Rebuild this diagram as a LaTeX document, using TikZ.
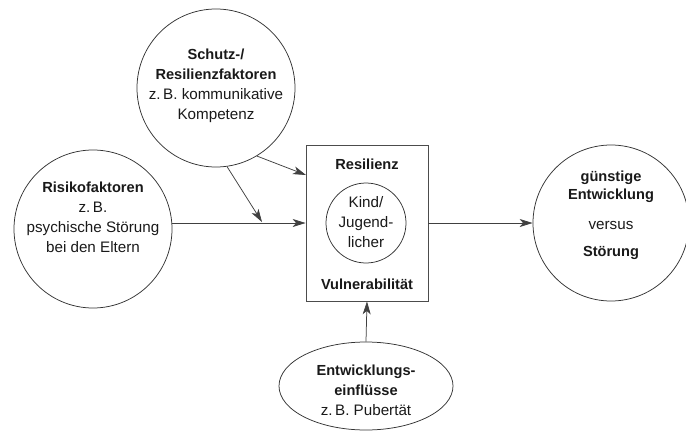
\documentclass[tikz,border=0pt]{standalone}
\usepackage{fontspec}
\setmainfont{Liberation Sans}
\usetikzlibrary{shapes.geometric,arrows.meta}
\begin{document}
\begin{tikzpicture}[x=1pt,y=-1pt,
  line width=0.75pt,
  every node/.style={font=\fontsize{15.2}{20}\selectfont, text=black!90},
  ring/.style={draw=black!80, circle, inner sep=0pt, align=center},
  frame/.style={draw=black!70, rectangle, inner sep=0pt},
  oval/.style={draw=black!80, ellipse, inner sep=0pt, align=center},
  conn/.style={draw=black!75, -{Stealth[length=13pt,width=8pt,inset=3.5pt]}},
  bold/.style={font=\fontsize{14.6}{20}\selectfont\bfseries}
]
\useasboundingbox (0,0) rectangle (686,437);
\newcommand{\bt}[1]{{\fontsize{14.6}{20}\selectfont\bfseries #1}}

\node[ring, minimum size=158pt] (schutz) at (216,88) {};
\node[align=center] (schutzt) at (216,86) {\bt{Schutz-/}\\\bt{Resilienzfaktoren}\\z.\,B. kommunikative\\Kompetenz};

\node[ring, minimum size=158pt] (risiko) at (93,229) {};
\node[align=center] (risikot) at (93,217) {\bt{Risikofaktoren}\\z.\,B.\\psychische Störung\\bei den Eltern};

\node[frame, minimum width=122pt, minimum height=156pt] (box) at (367,223) {};
\node[bold] (res) at (367,164.5) {Resilienz};
\node[bold] (vul) at (367,284) {Vulnerabilität};
\node[ring, minimum size=80pt] (kind) at (366,223) {};
\node[align=center] (kindt) at (366,222) {Kind/\\Jugend-\\licher};

\node[ring, minimum size=156pt] (out) at (611,223) {};
\node[align=center] (outt) at (611,215) {\bt{günstige}\\[-2pt]\bt{Entwicklung}\\[10pt]versus\\[7pt]\bt{Störung}};

\node[oval, minimum width=174pt, minimum height=88pt] (entw) at (366,386) {};
\node[align=center] (entwt) at (366,390) {\bt{Entwicklungs-}\\\bt{einflüsse}\\z.\,B. Pubertät};

\coordinate (m) at (262,222);
\coordinate (boxin) at (306,175);

\draw[conn] (risiko.east |- box.west) -- (box.west);
\draw[conn] (schutz.-82) -- (m);
\draw[conn] (schutz.-59) -- (boxin);
\draw[conn] (box.east) -- (out.west);
\draw[conn] (entw.north) -- (box.south);
\end{tikzpicture}
\end{document}
